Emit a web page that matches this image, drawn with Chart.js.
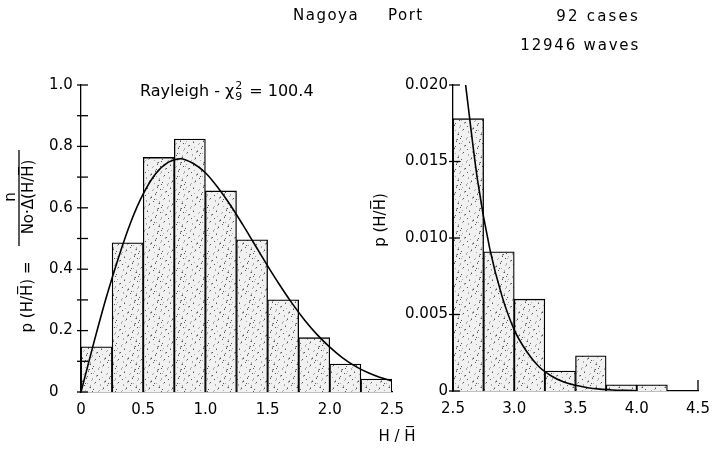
<!DOCTYPE html>
<html>
<head>
<meta charset="utf-8">
<script src="https://cdn.jsdelivr.net/npm/chart.js@4.4.0/dist/chart.umd.min.js"></script>
<style>
body { margin: 0; background: #fff; }
#wrap { position: relative; width: 712px; height: 451px; }
canvas { position: absolute; left: 0; top: 0; }
</style>
</head>
<body>
<div id="wrap">
<canvas id="leftChart" width="712" height="451"></canvas>
<canvas id="rightChart" width="712" height="451"></canvas>
</div>
<script>
// histogram bins (left edge of each 0.25 wide class)
var binWidth = 0.25;
var leftBinStarts = [0, 0.25, 0.5, 0.75, 1.0, 1.25, 1.5, 1.75, 2.0, 2.25];
var leftBarValues = [0.147, 0.486, 0.764, 0.824, 0.655, 0.496, 0.300, 0.177, 0.091, 0.042];

// Rayleigh curve
var leftCurveX = [0, 0.1, 0.2, 0.3, 0.4, 0.5, 0.6, 0.7, 0.8, 0.9, 1.0, 1.1, 1.2, 1.3, 1.4, 1.5, 1.6, 1.7, 1.8, 1.9, 2.0, 2.1, 2.2, 2.3, 2.4, 2.5];
var leftCurveY = [0, 0.156, 0.304, 0.436, 0.553, 0.645, 0.711, 0.748, 0.760, 0.745, 0.714, 0.666, 0.609, 0.545, 0.478, 0.411, 0.347, 0.287, 0.233, 0.186, 0.146, 0.112, 0.085, 0.064, 0.048, 0.036];

var rightBinStarts = [2.5, 2.75, 3.0, 3.25, 3.5, 3.75, 4.0];
var rightBarValues = [0.0178, 0.0091, 0.0060, 0.0013, 0.0023, 0.0004, 0.0004];

var rightCurveX = [2.6, 2.7, 2.8, 2.9, 3.0, 3.1, 3.2, 3.3, 3.4, 3.5, 3.6, 3.7, 3.8, 3.9, 4.0];
var rightCurveY = [0.0202, 0.0138, 0.0093, 0.0062, 0.0040, 0.0026, 0.0016, 0.0010, 0.0006, 0.00037, 0.00021, 0.00012, 0.00007, 0.00004, 0.00002];

var leftXTicks = { min: 0, max: 2.5, step: 0.5 };
var leftYTicks = { min: 0, max: 1.0, step: 0.1 };
var rightXTicks = { min: 2.5, max: 4.5, step: 0.5 };
var rightYTicks = { min: 0, max: 0.020, step: 0.005 };

var FONT = "'DejaVu Sans', sans-serif";
var HBAR = 'H\u0305';

function stipple() {
    var c = document.createElement('canvas');
    c.width = 23; c.height = 23;
    var g = c.getContext('2d');
    g.fillStyle = '#f1f1f1';
    g.fillRect(0, 0, 23, 23);
    for (var i = 0; i < 46; i++) {
        var px = (i * 7 + (i % 3) * 5) % 23;
        var py = (i * 11 + (i % 4) * 3) % 23;
        g.fillStyle = i % 3 == 0 ? '#555' : '#aaa';
        g.fillRect(px, py, 1, 1);
    }
    return g.createPattern(c, 'repeat');
}

function toBars(starts, values) {
    return starts.map(function (s, i) { return { x: s + binWidth / 2, y: values[i] }; });
}
function toPoints(xs, ys) {
    return xs.map(function (x, i) { return { x: x, y: ys[i] }; });
}

function noOverhangX(scale) { scale.paddingLeft = 0; scale.paddingRight = 0; }
function noOverhangY(scale) { scale.paddingTop = 0; scale.paddingBottom = 0; }

function line(ctx, x1, y1, x2, y2) {
    ctx.beginPath(); ctx.moveTo(x1, y1); ctx.lineTo(x2, y2); ctx.stroke();
}

var tickMarks = {
    id: 'tickMarks',
    afterDatasetsDraw: function (chart, args, opts) {
        var ctx = chart.ctx, a = chart.chartArea;
        var xs = chart.scales.x, ys = chart.scales.y;
        ctx.save();
        ctx.strokeStyle = '#000';
        ctx.lineWidth = 1.3;
        ys.ticks.forEach(function (t) {
            var y = ys.getPixelForValue(t.value);
            line(ctx, a.left - 4, y, a.left + 7, y);
        });
        if (opts.endTick) {
            var xe = xs.getPixelForValue(xs.max);
            line(ctx, xe, a.bottom, xe, a.bottom - 11);
        }
        ctx.restore();
    }
};

function rotatedText(ctx, text, x, y) {
    ctx.save();
    ctx.translate(x, y);
    ctx.rotate(-Math.PI / 2);
    ctx.fillText(text, 0, 0);
    ctx.restore();
}

var leftTexts = {
    id: 'leftTexts',
    afterDraw: function (chart) {
        var ctx = chart.ctx;
        ctx.save();
        ctx.fillStyle = '#000';
        ctx.strokeStyle = '#000';
        ctx.textBaseline = 'middle';

        // header
        ctx.font = '15px ' + FONT;
        ctx.letterSpacing = '1.5px';
        ctx.textAlign = 'left';
        ctx.fillText('Nagoya', 293, 16);
        ctx.fillText('Port', 388, 16);
        ctx.letterSpacing = '2.2px';
        ctx.textAlign = 'right';
        ctx.fillText('92 cases', 640, 17);
        ctx.letterSpacing = '1.8px';
        ctx.fillText('12946 waves', 640, 46);
        ctx.letterSpacing = '0px';

        // Rayleigh - chi^2_9 = 100.4
        ctx.textAlign = 'left';
        ctx.font = '16px ' + FONT;
        var x0 = 140, y0 = 92;
        var s1 = 'Rayleigh - \u03c7';
        ctx.fillText(s1, x0, y0);
        var w = ctx.measureText(s1).width;
        ctx.font = '11px ' + FONT;
        ctx.fillText('2', x0 + w + 1, y0 - 6);
        ctx.fillText('9', x0 + w + 1, y0 + 5);
        ctx.font = '16px ' + FONT;
        ctx.fillText('= 100.4', x0 + w + 15, y0);

        // y title: p(H/H) = n / (No . d(H/H))
        ctx.textAlign = 'center';
        ctx.font = '15px ' + FONT;
        rotatedText(ctx, 'p (H/' + HBAR + ') =', 28, 297);
        rotatedText(ctx, 'No\u00b7\u0394(H/' + HBAR + ')', 29, 197);
        rotatedText(ctx, 'n', 11, 197);
        ctx.lineWidth = 1.3;
        line(ctx, 19, 150, 19, 246);

        // x title
        ctx.font = '15px ' + FONT;
        ctx.fillText('H / ' + HBAR, 397, 437);
        ctx.restore();
    }
};

var rightTexts = {
    id: 'rightTexts',
    afterDraw: function (chart) {
        var ctx = chart.ctx;
        ctx.save();
        ctx.fillStyle = '#000';
        ctx.textAlign = 'center';
        ctx.textBaseline = 'middle';
        ctx.font = '15px ' + FONT;
        rotatedText(ctx, 'p (H/' + HBAR + ')', 381, 220);
        ctx.restore();
    }
};

function fmt(v, digits) {
    return Math.abs(v) < 1e-9 ? '0' : v.toFixed(digits);
}

function panel(canvasId, opt) {
    var pattern = stipple();
    return new Chart(document.getElementById(canvasId), {
        type: 'bar',
        data: {
            datasets: [{
                type: 'line',
                data: opt.curve,
                borderColor: '#000',
                borderWidth: 1.6,
                pointRadius: 0,
                cubicInterpolationMode: 'monotone',
                fill: false,
                order: 0
            }, {
                type: 'bar',
                data: opt.bars,
                backgroundColor: pattern,
                borderColor: '#000',
                borderWidth: 1.3,
                barPercentage: 1,
                categoryPercentage: 1,
                order: 1
            }]
        },
        options: {
            responsive: false,
            animation: false,
            layout: { padding: opt.padding },
            plugins: {
                legend: { display: false },
                tooltip: { enabled: false },
                tickMarks: { endTick: opt.endTick }
            },
            scales: {
                x: {
                    type: 'linear',
                    offset: false,
                    min: opt.xTicks.min,
                    max: opt.xTicks.max,
                    grid: { display: false, drawTicks: false },
                    border: { display: true, color: '#000', width: 1.3 },
                    ticks: {
                        stepSize: opt.xTicks.step,
                        padding: 9,
                        color: '#000',
                        font: { family: FONT, size: 15 },
                        maxRotation: 0,
                        autoSkip: false,
                        callback: function (v) { return fmt(v, 1); }
                    },
                    afterFit: function (s) { s.height = 40; noOverhangX(s); }
                },
                y: {
                    min: opt.yTicks.min,
                    max: opt.yTicks.max,
                    grid: { display: false, drawTicks: false },
                    border: { display: true, color: '#000', width: 1.3 },
                    ticks: {
                        stepSize: opt.yTicks.step,
                        padding: 5,
                        color: '#000',
                        crossAlign: opt.crossAlign,
                        font: { family: FONT, size: 15 },
                        autoSkip: false,
                        callback: opt.yLabel
                    },
                    afterFit: function (s) { s.width = opt.yWidth; noOverhangY(s); }
                }
            }
        },
        plugins: [tickMarks, opt.texts]
    });
}

var leftChart = panel('leftChart', {
    bars: toBars(leftBinStarts, leftBarValues),
    curve: toPoints(leftCurveX, leftCurveY),
    xTicks: leftXTicks,
    yTicks: leftYTicks,
    padding: { left: 49, right: 320, top: 85, bottom: 19 },
    yWidth: 32,
    crossAlign: 'far',
    endTick: false,
    yLabel: function (v) {
        var k = Math.round(v * 10);
        return k % 2 == 0 ? fmt(v, 1) : '';
    },
    texts: leftTexts
});

var rightChart = panel('rightChart', {
    bars: toBars(rightBinStarts, rightBarValues),
    curve: toPoints(rightCurveX, rightCurveY),
    xTicks: rightXTicks,
    yTicks: rightYTicks,
    padding: { left: 393, right: 14, top: 85, bottom: 20 },
    yWidth: 60,
    crossAlign: 'near',
    endTick: true,
    yLabel: function (v) { return fmt(v, 3); },
    texts: rightTexts
});
</script>
</body>
</html>
